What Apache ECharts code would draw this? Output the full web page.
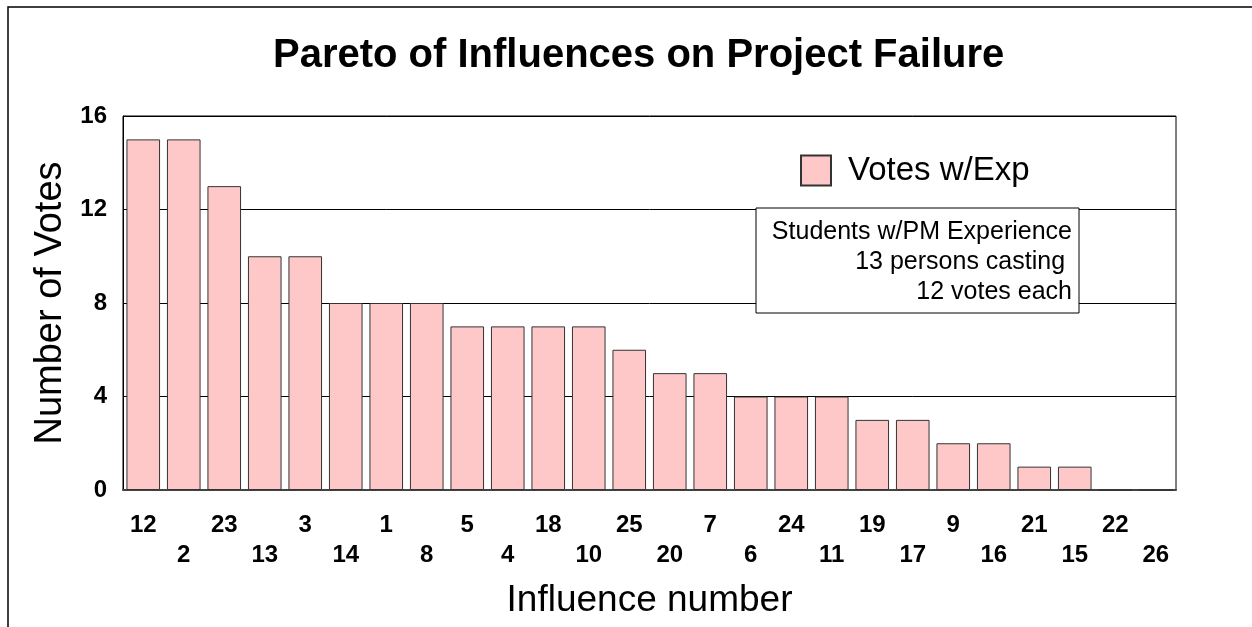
<!DOCTYPE html>
<html>
<head>
<meta charset="utf-8">
<script src="https://cdn.jsdelivr.net/npm/echarts@6/dist/echarts.min.js"></script>
<style>
  html, body { margin: 0; padding: 0; background: #fff; }
  #chart { width: 1252px; height: 627px; }
</style>
</head>
<body>
<div id="chart"></div>
<script>
  // influence numbers, sorted by votes (pareto order)
  var categories = ['12', '2', '23', '13', '3', '14', '1', '8', '5', '4', '18', '10', '25',
                    '20', '7', '6', '24', '11', '19', '17', '9', '16', '21', '15', '22', '26'];
  var votes = [15, 15, 13, 10, 10, 8, 8, 8, 7, 7, 7, 7, 6, 5, 5, 4, 4, 4, 3, 3, 2, 2, 1, 1, 0, 0];
  var seriesName = 'Votes w/Exp';
  var noteLines = ['Students w/PM Experience', '13 persons casting ', '12 votes each'];

  var font = '"Liberation Sans", Arial, sans-serif';
  var myChart = echarts.init(document.getElementById('chart'));

  var option = {
    backgroundColor: '#ffffff',
    animation: false,
    title: {
      text: 'Pareto of Influences on Project Failure',
      left: 268,
      top: 31,
      textStyle: {
        fontFamily: font,
        fontSize: 40,
        fontWeight: 'bold',
        color: '#000'
      }
    },
    legend: {
      data: [seriesName],
      left: 795,
      top: 149,
      icon: 'rect',
      itemWidth: 30,
      itemHeight: 30,
      textStyle: {
        fontFamily: font,
        fontSize: 33,
        color: '#000',
        padding: [0, 0, 0, 12]
      }
    },
    grid: {
      left: 123,
      right: 76,
      top: 116,
      bottom: 137,
      show: true,
      borderColor: '#000',
      borderWidth: 1
    },
    xAxis: {
      type: 'category',
      data: categories,
      name: 'Influence number',
      nameLocation: 'middle',
      nameGap: 92,
      nameTextStyle: {
        fontFamily: font,
        fontSize: 37,
        color: '#000'
      },
      axisLine: { lineStyle: { color: '#444', width: 2 } },
      axisTick: { show: false },
      axisLabel: {
        interval: 0,
        margin: 20,
        fontFamily: font,
        fontSize: 24,
        fontWeight: 'bold',
        color: '#000',
        lineHeight: 30,
        formatter: function (v, i) {
          return i % 2 ? '\n' + v : v;
        }
      }
    },
    yAxis: {
      type: 'value',
      min: 0,
      max: 16,
      interval: 4,
      name: 'Number of Votes',
      nameLocation: 'middle',
      nameGap: 53,
      nameTextStyle: {
        fontFamily: font,
        fontSize: 38,
        color: '#000'
      },
      axisLine: { show: true, lineStyle: { color: '#000', width: 1 } },
      axisTick: { show: false },
      axisLabel: {
        margin: 16,
        fontFamily: font,
        fontSize: 24,
        fontWeight: 'bold',
        color: '#000'
      },
      splitLine: { lineStyle: { color: '#000', width: 1 } }
    },
    series: [
      {
        name: seriesName,
        type: 'bar',
        data: votes,
        barCategoryGap: '17%',
        itemStyle: {
          color: '#ffc8c8',
          borderColor: '#333',
          borderWidth: 1
        }
      }
    ],
    graphic: [
      {
        // outer chart frame (cut off at right and bottom)
        type: 'rect',
        shape: { x: 8, y: 7, width: 1400, height: 800 },
        style: { fill: 'none', stroke: '#000', lineWidth: 1.5 },
        z: 1
      },
      {
        type: 'group',
        z: 100,
        children: [
          {
            type: 'rect',
            shape: { x: 756, y: 208, width: 323, height: 105 },
            style: { fill: '#fff', stroke: '#000', lineWidth: 1 },
            z: 100
          },
          {
            type: 'text',
            x: 1072,
            y: 217,
            z: 101,
            style: {
              text: noteLines.join('\n'),
              align: 'right',
              verticalAlign: 'top',
              lineHeight: 30,
              fontFamily: font,
              fontSize: 25,
              fill: '#000'
            }
          }
        ]
      }
    ]
  };

  myChart.setOption(option);
</script>
</body>
</html>
